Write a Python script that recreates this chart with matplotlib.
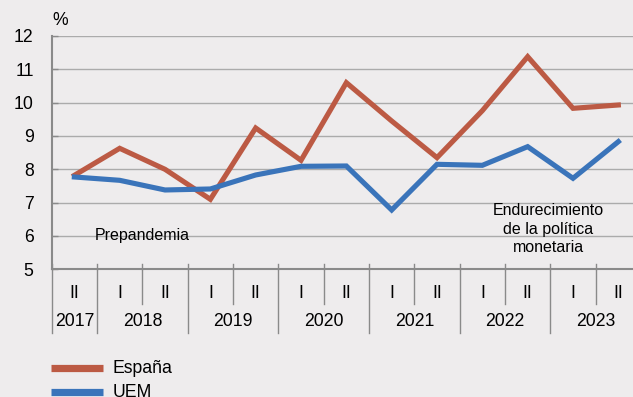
import matplotlib
matplotlib.use("Agg")
import matplotlib.pyplot as plt
from matplotlib.lines import Line2D

plt.rcParams["font.family"] = ["Liberation Sans", "DejaVu Sans"]

# half-year periods, 2017 II .. 2023 II
periods = ["II", "I", "II", "I", "II", "I", "II", "I", "II", "I", "II", "I", "II"]
years = ["2017", "2018", "2019", "2020", "2021", "2022", "2023"]
year_start = [0, 1, 3, 5, 7, 9, 11]
year_end = [0, 2, 4, 6, 8, 10, 12]

espana = [7.82, 8.63, 8.0, 7.1, 9.24, 8.27, 10.6, 9.45, 8.35, 9.76, 11.38, 9.83, 9.93]
uem = [7.77, 7.67, 7.38, 7.41, 7.83, 8.09, 8.1, 6.78, 8.15, 8.12, 8.68, 7.73, 8.83]

RED = "#bc5a44"
BLUE = "#3a74ba"
BG = "#eeeced"
GRID = "#ababab"
AXIS = "#8a8a8a"

W, H = 633, 397
fig = plt.figure(figsize=(W / 100, H / 100), dpi=100, facecolor=BG)
ax = fig.add_axes([51.7 / W, (H - 269.3) / H, (641 - 51.7) / W, 233.3 / H])
ax.set_facecolor(BG)

x = list(range(len(periods)))
ax.plot(x, espana, color=RED, lw=3.7, solid_joinstyle="miter", zorder=3)
ax.plot(x, uem, color=BLUE, lw=3.7, solid_joinstyle="miter", zorder=3)

ax.set_xlim(-0.5, len(periods) - 0.5)
ax.set_ylim(5, 12)
ax.set_yticks(range(5, 13))
ax.yaxis.grid(True, color=GRID, lw=1.0)
ax.set_axisbelow(True)
ax.tick_params(axis="y", direction="in", length=4, width=1, color=AXIS,
               labelsize=12.7, pad=13)
ax.set_xticks([])

for s in ["top", "right"]:
    ax.spines[s].set_visible(False)
for s in ["left", "bottom"]:
    ax.spines[s].set_color(AXIS)
    ax.spines[s].set_linewidth(1.5)

# category axis drawn below the plot
tr = ax.get_xaxis_transform()
bounds = [i - 0.5 for i in range(len(periods) + 1)]
year_bounds = [s - 0.5 for s in year_start] + [year_end[-1] + 0.5]
for b in bounds:
    ax.plot([b, b], [0, 0.022], transform=tr, color=AXIS, lw=1, clip_on=False)
    low = -0.274 if b in year_bounds else -0.15
    ax.plot([b, b], [0, low], transform=tr, color=AXIS, lw=1, clip_on=False)

for i, p in enumerate(periods):
    ax.text(i, -0.102, p, transform=tr, ha="center", va="center", fontsize=12.7)
for y, a, b in zip(years, year_start, year_end):
    ax.text((a + b) / 2, -0.225, y, transform=tr, ha="center", va="center",
            fontsize=12.7)

fig.text(52 / W, 1 - 20.7 / H, "%", ha="left", va="center", fontsize=12.7)

ax.text(1.5, 6.0, "Prepandemia", ha="center", va="center", fontsize=11.5)
ax.text(10.45, 6.2, "Endurecimiento\nde la política\nmonetaria", ha="center",
        va="center", fontsize=11.5, linespacing=1.28)

# legend (cut at the bottom edge, as in the source)
for yy, c, lab in [(368.3, RED, "España"), (392.3, BLUE, "UEM")]:
    fig.add_artist(Line2D([51 / W, 103 / W], [1 - yy / H] * 2, color=c, lw=5.2,
                          solid_capstyle="butt"))
    fig.text(113 / W, 1 - yy / H, lab, ha="left", va="center", fontsize=12.7)

fig.savefig("out.png", dpi=100, facecolor=BG)
